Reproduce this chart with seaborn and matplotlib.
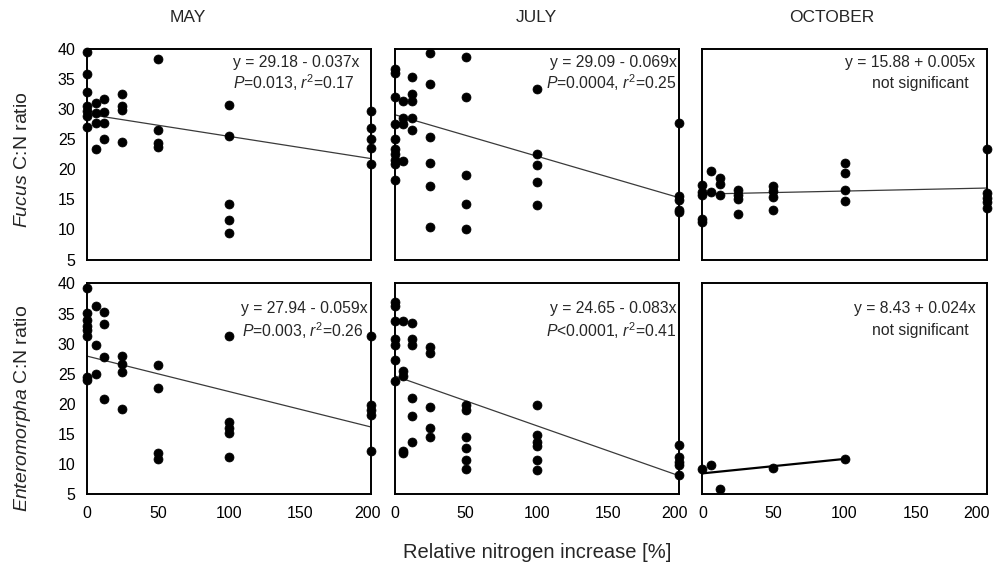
import numpy as np
import pandas as pd
import matplotlib
matplotlib.use("Agg")
import matplotlib.pyplot as plt
import matplotlib.transforms as mtransforms
import seaborn as sns

sns.set_style("white")
plt.rcParams['font.family'] = ['Liberation Sans', 'DejaVu Sans']
plt.rcParams['mathtext.fontset'] = 'custom'
plt.rcParams['mathtext.rm'] = 'Liberation Sans'
plt.rcParams['mathtext.it'] = 'Liberation Sans:italic'

# ---------------- data ----------------
months = ["MAY", "JULY", "OCTOBER"]
species = ["Fucus", "Enteromorpha"]

may_fucus_x = [0]*7 + [6.25]*4 + [12.5]*4 + [25]*4 + [50]*4 + [100]*5 + [200]*5
may_fucus_y = [39.5, 35.9, 32.8, 30.5, 29.7, 28.9, 27.0,
               31.1, 29.4, 27.7, 23.3,
               31.7, 29.5, 27.7, 25.1,
               32.6, 30.6, 29.8, 24.6,
               38.4, 26.5, 24.3, 23.7,
               30.7, 25.5, 14.2, 11.6, 9.4,
               29.7, 26.8, 25.1, 23.5, 20.8]

jul_fucus_x = [0]*10 + [6.25]*4 + [12.5]*5 + [25]*6 + [50]*5 + [100]*5 + [200]*5
jul_fucus_y = [36.7, 36.0, 32.1, 27.6, 25.0, 23.4, 22.5, 21.6, 20.8, 18.3,
               31.3, 28.5, 27.6, 21.4,
               35.3, 32.5, 31.3, 28.5, 26.5,
               39.4, 34.2, 25.3, 21.0, 17.3, 10.4,
               38.7, 32.1, 19.0, 14.3, 10.0,
               33.3, 22.5, 20.7, 17.9, 14.0,
               27.7, 15.6, 14.9, 13.3, 12.9]

oct_fucus_x = [0]*5 + [6.25]*2 + [12.5]*3 + [25]*4 + [50]*4 + [100]*4 + [200]*5
oct_fucus_y = [17.4, 16.2, 15.7, 11.8, 11.3,
               19.7, 16.3,
               18.6, 17.5, 15.8,
               16.5, 15.7, 15.0, 12.5,
               17.2, 16.4, 15.4, 13.3,
               21.0, 19.4, 16.5, 14.8,
               23.3, 16.0, 15.3, 14.6, 13.6]

may_ent_x = [0]*8 + [6.25]*3 + [12.5]*4 + [25]*4 + [50]*4 + [100]*5 + [200]*5
may_ent_y = [39.2, 35.1, 33.9, 33.0, 32.3, 31.3, 24.5, 23.9,
             36.2, 29.7, 25.0,
             35.2, 33.3, 27.7, 20.8,
             27.9, 26.6, 25.3, 19.2,
             26.4, 22.7, 11.9, 10.9,
             31.3, 16.9, 15.9, 15.2, 11.1,
             31.3, 19.8, 19.0, 18.2, 12.2]

jul_ent_x = [0]*7 + [6.25]*5 + [12.5]*6 + [25]*5 + [50]*6 + [100]*6 + [200]*5
jul_ent_y = [36.9, 36.2, 33.8, 30.7, 29.7, 27.2, 23.8,
             33.7, 25.5, 24.6, 12.1, 11.8,
             33.5, 30.7, 29.8, 20.9, 18.0, 13.7,
             29.4, 28.4, 19.4, 16.0, 14.4,
             19.8, 19.0, 14.4, 12.6, 10.7, 9.2,
             19.8, 14.8, 13.6, 13.0, 10.7, 9.0,
             13.2, 11.2, 10.4, 9.8, 8.2]

oct_ent_x = [0, 6.25, 12.5, 50, 100]
oct_ent_y = [9.1, 9.9, 5.8, 9.3, 10.8]

# regression lines printed in each panel (row-major: Fucus MAY, JULY, OCT, Enteromorpha MAY, JULY, OCT)
intercepts = [29.18, 29.09, 15.88, 27.94, 24.65, 8.43]
slopes = [-0.037, -0.069, 0.005, -0.059, -0.083, 0.024]
line_end = [200, 200, 200, 200, 200, 100]
eq_texts = ["y = 29.18 - 0.037x", "y = 29.09 - 0.069x", "y = 15.88 + 0.005x",
            "y = 27.94 - 0.059x", "y = 24.65 - 0.083x", "y = 8.43 + 0.024x"]
stat_texts = [r"$\it{P}$=0.013, $\it{r}^2$=0.17", r"$\it{P}$=0.0004, $\it{r}^2$=0.25",
              "not significant",
              r"$\it{P}$=0.003, $\it{r}^2$=0.26", r"$\it{P}$<0.0001, $\it{r}^2$=0.41",
              "not significant"]

x_ticks = [0, 50, 100, 150, 200]
y_ticks = [5, 10, 15, 20, 25, 30, 35, 40]

panels = [(may_fucus_x, may_fucus_y), (jul_fucus_x, jul_fucus_y), (oct_fucus_x, oct_fucus_y),
          (may_ent_x, may_ent_y), (jul_ent_x, jul_ent_y), (oct_ent_x, oct_ent_y)]

# ---------------- figure ----------------
W, H = 995, 573
fig, axes = plt.subplots(2, 3, figsize=(W/100, H/100), dpi=100)
fig.subplots_adjust(left=86.7/W, right=986.7/W, top=1-49/H, bottom=1-494/H,
                    wspace=0.0827, hspace=0.114)

# text placement in axes fraction: (x, y, ha) for equation and stat line
eq_pos = [(0.513, 0.938, 'left'), (0.992, 0.938, 'right'), (0.960, 0.938, 'right'),
          (0.544, 0.880, 'left'), (0.992, 0.880, 'right'), (0.960, 0.880, 'right')]
st_pos = [(0.513, 0.838, 'left'), (0.992, 0.838, 'right'), (0.935, 0.838, 'right'),
          (0.547, 0.775, 'left'), (0.992, 0.775, 'right'), (0.935, 0.775, 'right')]

for i, ax in enumerate(axes.flat):
    px, py = panels[i]
    df = pd.DataFrame({"x": px, "y": py})
    xs = np.array([0, line_end[i]])
    ax.plot(xs, intercepts[i] + slopes[i]*xs,
            color='black' if i == 5 else '#3a3a3a',
            lw=1.6 if i == 5 else 0.9, zorder=2, clip_on=False)
    sns.scatterplot(data=df, x="x", y="y", ax=ax, color='black', s=42,
                    edgecolor='black', linewidth=0.5, zorder=3, clip_on=False, legend=False)
    ax.set_xlim(0, 200)
    ax.set_ylim(5, 40)
    ax.set_xticks(x_ticks)
    ax.set_yticks(y_ticks)
    ax.set_xlabel("")
    ax.set_ylabel("")
    for sp in ax.spines.values():
        sp.set_visible(True)
        sp.set_color('black')
        sp.set_linewidth(1.4)
    ax.tick_params(direction='in', length=6, width=1.2, colors='black',
                   labelsize=11.5, top=False, right=False)
    ax.tick_params(axis='y', pad=8)
    ax.tick_params(axis='x', pad=9)
    if i % 3 != 0:
        ax.tick_params(labelleft=False)
    if i < 3:
        ax.tick_params(labelbottom=False)
    ex, ey, eha = eq_pos[i]
    ax.text(ex, ey, eq_texts[i], transform=ax.transAxes, ha=eha, va='center', fontsize=11.3)
    sx, sy, sha = st_pos[i]
    ax.text(sx, sy, stat_texts[i], transform=ax.transAxes, ha=sha, va='center', fontsize=11.3)

# shift the "200" tick labels slightly left (as in the reference), most on the last panel
fig.canvas.draw()
for j, ax in enumerate(axes[1]):
    shift = -10 if j == 2 else -4
    lab = ax.get_xticklabels()[-1]
    lab.set_transform(lab.get_transform() +
                      mtransforms.ScaledTranslation(shift/100, 0, fig.dpi_scale_trans))

# column titles
title_x = [188, 536, 832]
for t, xpix in zip(months, title_x):
    fig.text(xpix/W, 1-18/H, t, ha='center', va='center', fontsize=12.5)

# row labels
fig.text(23/W, 1-160/H, r"$\it{Fucus}$ C:N ratio", rotation=90, ha='center', va='center', fontsize=14)
fig.text(23/W, 1-408/H, r"$\it{Enteromorpha}$ C:N ratio", rotation=90, ha='center', va='center', fontsize=14)

fig.text(537/W, 1-552/H, "Relative nitrogen increase [%]", ha='center', va='center', fontsize=14.5)

fig.savefig("out.png", dpi=100)
